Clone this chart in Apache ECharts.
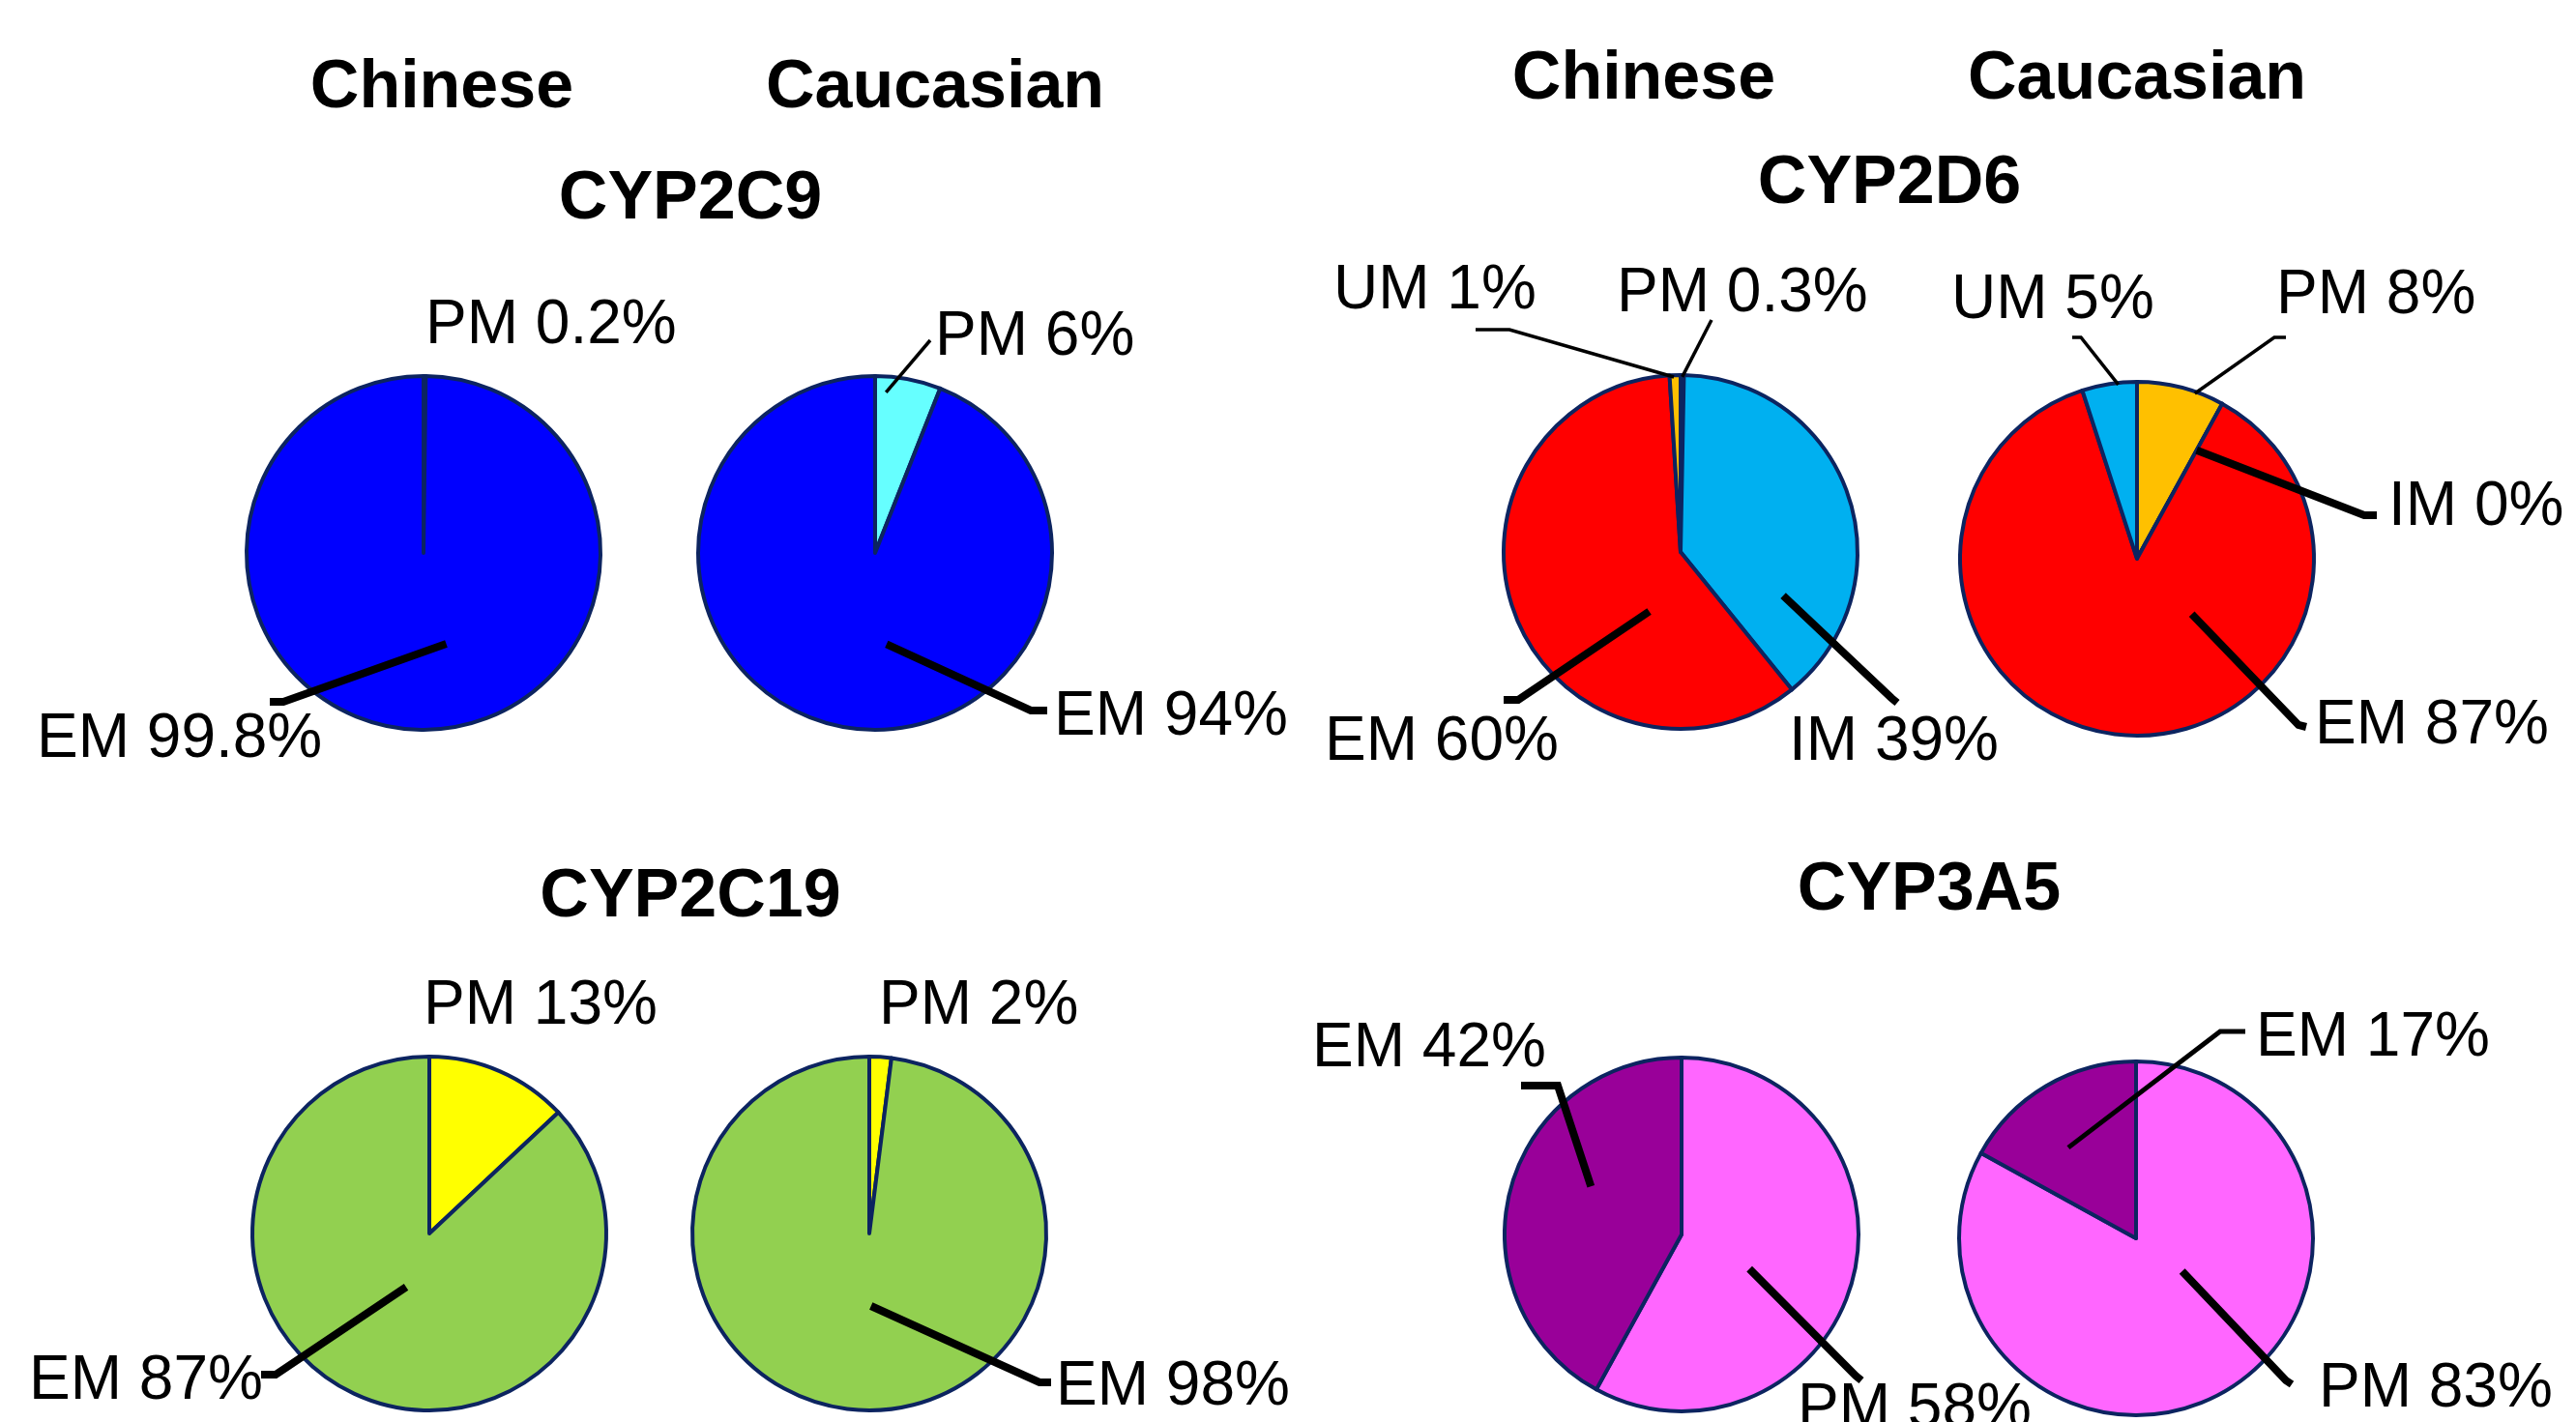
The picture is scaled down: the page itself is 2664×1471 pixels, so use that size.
<!DOCTYPE html>
<html>
<head>
<meta charset="utf-8">
<title>CYP phenotype frequencies: Chinese vs Caucasian</title>
<script src="https://cdn.jsdelivr.net/npm/echarts@6/dist/echarts.min.js"></script>
<style>
  html, body { margin: 0; padding: 0; background: #ffffff; }
  #chart { width: 2664px; height: 1471px; }
</style>
</head>
<body>
<div id="chart"></div>
<script>
// Metaboliser phenotype frequencies (%), listed clockwise from 12 o'clock.
const populations = ['Chinese', 'Caucasian'];
const genes = ['CYP2C9', 'CYP2D6', 'CYP2C19', 'CYP3A5'];

const cyp2c9Phenotypes = ['PM', 'EM'];
const cyp2c9Chinese = [0.2, 99.8];
const cyp2c9Caucasian = [6, 94];

const cyp2d6Phenotypes = ['PM', 'IM', 'EM', 'UM'];
const cyp2d6Chinese = [0.3, 39, 60, 1];
const cyp2d6Caucasian = [8, 0, 87, 5];

const cyp2c19Phenotypes = ['PM', 'EM'];
const cyp2c19Chinese = [13, 87];
const cyp2c19Caucasian = [2, 98];

const cyp3a5Phenotypes = ['PM', 'EM'];
const cyp3a5Chinese = [58, 42];
const cyp3a5Caucasian = [83, 17];

// ---- styling & layout ----
const FONT = "'Liberation Sans', Arial, sans-serif";
const RADIUS = 183;
const BORDER = '#0c2460';
const LINE_WIDTH = { thin: 3.5, medium: 5, thick: 8 };

// Label placement: x = left edge, y = vertical centre of the text.
// Leader: 'at' = [fraction along the slice's arc span, fraction of radius],
// then a bend point and an end point next to the label.
const pies = [
  { names: cyp2c9Phenotypes, values: cyp2c9Chinese, center: [438, 572],
    colors: ['#66ffff', '#0000ff'],
    labels: [
      { x: 440, y: 337 },
      { x: 38, y: 765, line: 'thick', at: [0.46, 0.53], bend: [293, 726], end: [279, 726] }
    ] },
  { names: cyp2c9Phenotypes, values: cyp2c9Caucasian, center: [905, 572],
    colors: ['#66ffff', '#0000ff'],
    labels: [
      { x: 967, y: 349, line: 'thin', at: [0.18, 0.91], bend: [962, 352], end: [962, 352] },
      { x: 1090, y: 742, line: 'thick', at: [0.447, 0.52], bend: [1066, 735], end: [1083, 735] }
    ] },
  { names: cyp2d6Phenotypes, values: cyp2d6Chinese, center: [1738, 571],
    colors: ['#ffc000', '#00b0f0', '#ff0000', '#ffc000'],
    labels: [
      { x: 1672, y: 304, line: 'thin', at: [0.5, 0.99], bend: [1770, 331], end: [1770, 331] },
      { x: 1850, y: 768, line: 'thick', at: [0.80, 0.63], bend: [1956, 722], end: [1962, 727] },
      { x: 1370, y: 768, line: 'thick', at: [0.31, 0.38], bend: [1570, 724], end: [1555, 724] },
      { x: 1379, y: 301, line: 'thin', at: [0.39, 0.99], bend: [1561, 341], end: [1526, 341] }
    ] },
  { names: cyp2d6Phenotypes, values: cyp2d6Caucasian, center: [2210, 578],
    colors: ['#ffc000', '#00b0f0', '#ff0000', '#00b0f0'],
    labels: [
      { x: 2354, y: 306, line: 'thin', at: [0.67, 0.99], bend: [2352, 349], end: [2364, 349] },
      { x: 2470, y: 525, line: 'thick', at: [0.5, 0.70], bend: [2445, 533], end: [2458, 533] },
      { x: 2394, y: 751, line: 'thick', at: [0.34, 0.44], bend: [2377, 750], end: [2385, 752] },
      { x: 2018, y: 311, line: 'thin', at: [0.66, 0.99], bend: [2152, 349], end: [2143, 349] }
    ] },
  { names: cyp2c19Phenotypes, values: cyp2c19Chinese, center: [444, 1276],
    colors: ['#ffff00', '#92d050'],
    labels: [
      { x: 438, y: 1041 },
      { x: 30, y: 1429, line: 'thick', at: [0.50, 0.33], bend: [285, 1422], end: [270, 1422] }
    ] },
  { names: cyp2c19Phenotypes, values: cyp2c19Caucasian, center: [899, 1276],
    colors: ['#ffff00', '#92d050'],
    labels: [
      { x: 909, y: 1041 },
      { x: 1092, y: 1435, line: 'thick', at: [0.486, 0.41], bend: [1075, 1430], end: [1087, 1430] }
    ] },
  { names: cyp3a5Phenotypes, values: cyp3a5Chinese, center: [1739, 1277],
    colors: ['#ff66ff', '#990099'],
    labels: [
      { x: 1859, y: 1458, line: 'thick', at: [0.56, 0.43], bend: [1919, 1423], end: [1925, 1428] },
      { x: 1357, y: 1085, line: 'thick', at: [0.59, 0.58], bend: [1611, 1123], end: [1573, 1123] }
    ] },
  { names: cyp3a5Phenotypes, values: cyp3a5Caucasian, center: [2209, 1281],
    colors: ['#ff66ff', '#990099'],
    labels: [
      { x: 2398, y: 1437, line: 'thick', at: [0.42, 0.32], bend: [2364, 1428], end: [2370, 1432] },
      { x: 2333, y: 1074, line: 'medium', at: [0.40, 0.64], bend: [2296, 1067], end: [2322, 1067] }
    ] }
];

// Headings: population names over the top row, gene name over each pair.
const headings = [
  { text: populations[0], x: 457, y: 92 },
  { text: populations[1], x: 967, y: 92 },
  { text: genes[0], x: 714, y: 207 },
  { text: populations[0], x: 1700, y: 83 },
  { text: populations[1], x: 2210, y: 83 },
  { text: genes[1], x: 1954, y: 191 },
  { text: genes[2], x: 714, y: 929 },
  { text: genes[3], x: 1995, y: 922 }
];

// Angular span of each slice (degrees clockwise from 12 o'clock).
function sliceSpans(values) {
  const total = values.reduce((a, b) => a + b, 0);
  let acc = 0;
  return values.map(v => {
    const start = acc / total * 360;
    acc += v;
    return [start, acc / total * 360];
  });
}

function leaderPoints(pie, spans, idx) {
  const lab = pie.labels[idx];
  const [s, e] = spans[idx];
  const theta = (s + lab.at[0] * (e - s)) * Math.PI / 180;
  const r = lab.at[1] * RADIUS;
  const anchor = [pie.center[0] + r * Math.sin(theta), pie.center[1] - r * Math.cos(theta)];
  return [anchor, lab.bend.slice(), lab.end.slice()];
}

const common = {
  type: 'pie',
  radius: RADIUS,
  startAngle: 90,
  clockwise: true,
  animation: false,
  silent: true,
  avoidLabelOverlap: false,
  emphasis: { disabled: true }
};

const series = [];

// Filled slices
pies.forEach((pie, pIdx) => {
  series.push(Object.assign({}, common, {
    id: 'slices-' + pIdx,
    center: pie.center,
    z: 2,
    itemStyle: { borderColor: BORDER, borderWidth: 4 },
    label: { show: false },
    labelLine: { show: false },
    data: pie.values.map((v, i) => ({
      name: pie.names[i], value: v, itemStyle: { color: pie.colors[i] }
    }))
  }));
});

// Labels and leader lines, laid over the slices
pies.forEach((pie, pIdx) => {
  const spans = sliceSpans(pie.values);
  series.push(Object.assign({}, common, {
    id: 'labels-' + pIdx,
    center: pie.center,
    z: 5,
    itemStyle: { color: 'rgba(0,0,0,0)', borderWidth: 0 },
    label: {
      show: true,
      position: 'outside',
      formatter: '{b} {c}%',
      fontFamily: FONT,
      fontSize: 64,
      color: '#000000'
    },
    labelLine: { show: true, showAbove: true, length: 10, length2: 10, smooth: false, minTurnAngle: 0,
      lineStyle: { color: '#000000', width: 3 } },
    labelLayout: function (params) {
      const lab = pie.labels[params.dataIndex];
      const out = { x: lab.x, y: lab.y, align: 'left', verticalAlign: 'middle' };
      if (lab.line) out.labelLinePoints = leaderPoints(pie, spans, params.dataIndex);
      return out;
    },
    data: pie.values.map((v, i) => {
      const lab = pie.labels[i];
      return {
        name: pie.names[i],
        value: v,
        labelLine: lab.line
          ? { show: true, lineStyle: { color: '#000000', width: LINE_WIDTH[lab.line] } }
          : { show: false }
      };
    })
  }));
});

const titles = headings.map(h => ({
  text: h.text,
  left: h.x,
  top: h.y,
  textAlign: 'center',
  textVerticalAlign: 'middle',
  padding: 0,
  textStyle: { fontFamily: FONT, fontSize: 70, fontWeight: 'bold', color: '#000000', lineHeight: 70 }
}));

const chart = echarts.init(document.getElementById('chart'), null, { renderer: 'canvas' });
chart.setOption({
  backgroundColor: '#ffffff',
  animation: false,
  title: titles,
  series: series
});
</script>
</body>
</html>
